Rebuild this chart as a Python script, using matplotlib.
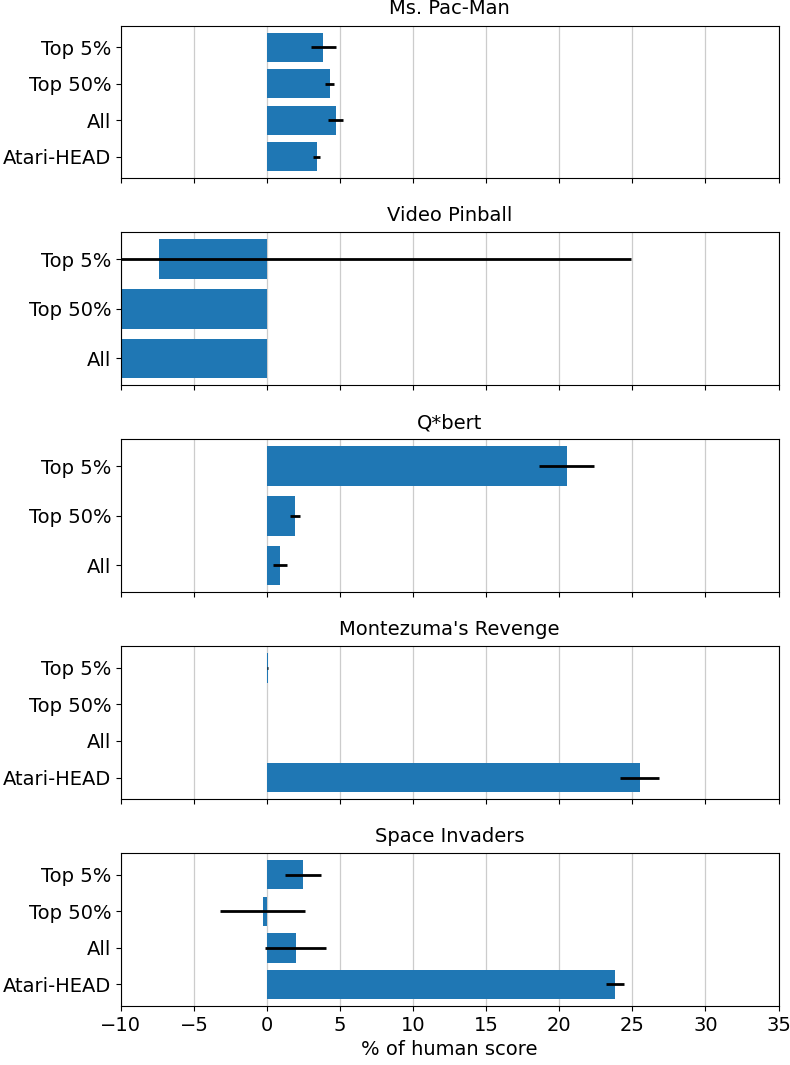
import numpy as np
import matplotlib
matplotlib.use("Agg")
import matplotlib.pyplot as plt

games = ["Ms. Pac-Man", "Video Pinball", "Q*bert", "Montezuma's Revenge", "Space Invaders"]

# categories per game
cats = {
    "Ms. Pac-Man": ["Top 5%", "Top 50%", "All", "Atari-HEAD"],
    "Video Pinball": ["Top 5%", "Top 50%", "All"],
    "Q*bert": ["Top 5%", "Top 50%", "All"],
    "Montezuma's Revenge": ["Top 5%", "Top 50%", "All", "Atari-HEAD"],
    "Space Invaders": ["Top 5%", "Top 50%", "All", "Atari-HEAD"],
}

# mean % of human score
vals = {
    "Ms. Pac-Man": [3.85, 4.3, 4.7, 3.4],
    "Video Pinball": [-7.4, -60.0, -60.0],
    "Q*bert": [20.5, 1.9, 0.9],
    "Montezuma's Revenge": [0.05, 0.0, 0.0, 25.5],
    "Space Invaders": [2.45, -0.3, 1.95, 23.8],
}

# error (half width)
errs = {
    "Ms. Pac-Man": [0.85, 0.3, 0.5, 0.25],
    "Video Pinball": [32.3, 3.0, 3.0],
    "Q*bert": [1.9, 0.35, 0.5],
    "Montezuma's Revenge": [0.05, 0.0, 0.0, 1.35],
    "Space Invaders": [1.25, 2.9, 2.1, 0.6],
}

fs = 14

fig, axes = plt.subplots(5, 1, figsize=(7.9, 10.65), dpi=100, sharex=True)
plt.subplots_adjust(left=0.153, right=0.9855, top=0.976, bottom=0.0554, hspace=0.355)

for ax, g in zip(axes, games):
    y = np.arange(len(cats[g]))
    ax.barh(y, vals[g], xerr=errs[g], height=0.8, color="#1f77b4",
            error_kw=dict(ecolor="black", elinewidth=2, capsize=0), zorder=2)
    ax.set_yticks(y)
    ax.set_yticklabels(cats[g], fontsize=fs)
    ax.invert_yaxis()
    ax.set_title(g, fontsize=fs, pad=8)
    ax.grid(axis="x", color="#cccccc", linewidth=0.9, zorder=0)
    ax.set_axisbelow(True)
    ax.tick_params(axis="x", labelsize=fs)

axes[-1].set_xlim(-10, 35)
axes[-1].set_xticks(np.arange(-10, 36, 5))
axes[-1].set_xlabel("% of human score", fontsize=fs)

plt.savefig("out.png", dpi=100)
